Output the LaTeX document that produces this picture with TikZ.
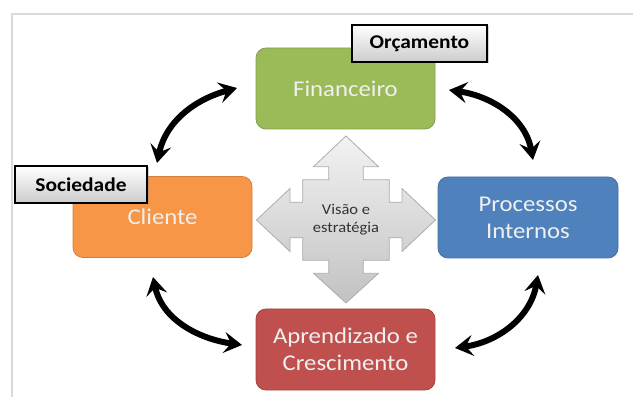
\documentclass[tikz,border=0pt]{standalone}
\usepackage{fontspec}
\setmainfont{Carlito}[FakeStretch=1.1]
\usetikzlibrary{arrows.meta,shadows}
\definecolor{cgreen}{HTML}{9BBB59}
\definecolor{corange}{HTML}{F79646}
\definecolor{cblue}{HTML}{4F81BD}
\definecolor{cred}{HTML}{C0504D}
\definecolor{framecol}{HTML}{D9D9D9}
\definecolor{crosstext}{HTML}{333333}
\tikzset{
  mainbox/.style={rounded corners=10pt, minimum width=179pt, minimum height=81pt,
    inner sep=0pt, align=center, line width=0.8pt, text=white!94!black,
    font=\fontsize{22.5}{27}\selectfont},
  labelbox/.style={draw=black, line width=1.2pt, top color=white, bottom color=gray!40,
    minimum width=134pt, minimum height=37pt, inner sep=0pt,
    font=\bfseries\fontsize{19.5}{22}\selectfont,
    drop shadow={shadow xshift=1.5pt, shadow yshift=-1.5pt, opacity=0.35}},
  crossshape/.style={top color=gray!10, bottom color=gray!48, draw=gray!65, line width=0.8pt},
  dblarrow/.style={line width=6pt, {Stealth[length=18pt,width=21pt,inset=7pt]}-{Stealth[length=18pt,width=21pt,inset=7pt]}},
}
\begin{document}
\begin{tikzpicture}[x=1pt,y=1pt]
\useasboundingbox (0,0) rectangle (633,397);
\draw[framecol, line width=2pt] (12,0) -- (12,382.5) -- (633,382.5);

% cross
\begin{scope}[shift={(346,177)}]
\path[crossshape] (0,84) -- (32.5,53.3) -- (17.3,53.3) -- (17.3,40.3) -- (43.3,40.3)
  -- (43.3,17.8) -- (56,17.8) -- (56,31.5) -- (89.5,0) -- (56,-31.5) -- (56,-17.8)
  -- (43.3,-17.8) -- (43.3,-40.3) -- (17.3,-40.3) -- (17.3,-53.3) -- (32.5,-53.3)
  -- (0,-83) -- (-32.5,-53.3) -- (-17.3,-53.3) -- (-17.3,-40.3) -- (-43.3,-40.3)
  -- (-43.3,-17.8) -- (-56,-17.8) -- (-56,-31.5) -- (-89.5,0) -- (-56,31.5) -- (-56,17.8)
  -- (-43.3,17.8) -- (-43.3,40.3) -- (-17.3,40.3) -- (-17.3,53.3) -- (-32.5,53.3) -- cycle;
\node[align=center, text=crosstext, font=\fontsize{15}{18}\selectfont] (vis) at (0,0) {Visão e\\estratégia};
\end{scope}

% boxes
\node[mainbox, fill=cgreen, draw=cgreen!85!black] (fin) at (345.5,308.5) {Financeiro};
\node[mainbox, fill=corange, draw=corange!85!black] (cli) at (162.5,180) {Cliente};
\node[mainbox, fill=cblue, draw=cblue!85!black, minimum width=180pt] (pro) at (528,179.5) {Processos\\Internos};
\node[mainbox, fill=cred, draw=cred!85!black] (apr) at (345.5,47.5) {Aprendizado e\\Crescimento};

% labels
\node[labelbox, minimum width=135pt] (orc) at (419.5,353.5) {Orçamento};
\node[labelbox, minimum width=132pt] (soc) at (81,212.5) {Sociedade};

% arrow ends
\coordinate (tl1) at (157,234);
\coordinate (tl2) at (237,309);
\coordinate (tr1) at (449,307);
\coordinate (tr2) at (533,237);
\coordinate (bl1) at (153,120);
\coordinate (bl2) at (242,52);
\coordinate (br1) at (455,49);
\coordinate (br2) at (538,122);

\draw[dblarrow] (tl1) to[out=78, in=195] (tl2);
\draw[dblarrow] (tr1) to[out=-8, in=100] (tr2);
\draw[dblarrow] (bl1) to[out=-78, in=172] (bl2);
\draw[dblarrow] (br1) to[out=8, in=-100] (br2);
\end{tikzpicture}
\end{document}
